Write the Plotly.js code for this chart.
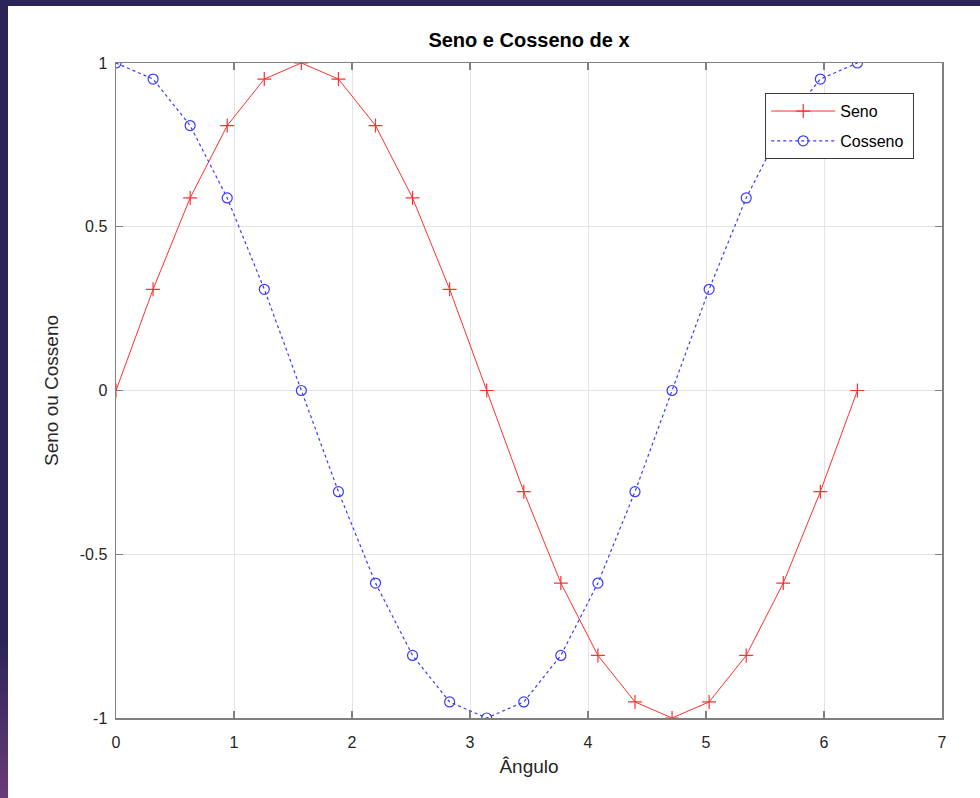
<!DOCTYPE html>
<html>
<head>
<meta charset="utf-8">
<script src="https://cdn.plot.ly/plotly-3.0.1.min.js"></script>
<style>
  html, body { margin:0; padding:0; width:980px; height:798px; overflow:hidden;
    background: linear-gradient(180deg, #2a2458 0%, #2a2458 80%, #6a3a78 100%); }
  #chart { position:absolute; left:8px; top:6px; width:972px; height:792px; background:#fff; }
</style>
</head>
<body>
<div id="chart"></div>
<script>
const xVals = [0, 0.3142, 0.6283, 0.9425, 1.2566, 1.5708, 1.8850, 2.1991, 2.5133, 2.8274, 3.1416,
               3.4558, 3.7699, 4.0841, 4.3982, 4.7124, 5.0265, 5.3407, 5.6549, 5.9690, 6.2832];
const seno = [0, 0.309, 0.588, 0.809, 0.951, 1, 0.951, 0.809, 0.588, 0.309, 0,
              -0.309, -0.588, -0.809, -0.951, -1, -0.951, -0.809, -0.588, -0.309, 0];
const cosseno = [1, 0.951, 0.809, 0.588, 0.309, 0, -0.309, -0.588, -0.809, -0.951, -1,
                 -0.951, -0.809, -0.588, -0.309, 0, 0.309, 0.588, 0.809, 0.951, 1];
const xTicks = [0, 1, 2, 3, 4, 5, 6, 7];
const yTicks = [-1, -0.5, 0, 0.5, 1];
const yTickText = ['-1', '-0.5', '0', '0.5', '1'];

const font = 'Liberation Sans, Arial, sans-serif';
const red = '#ff3030', blue = '#3a3aff';
const traces = [
  { x: xVals, y: seno, name: 'Seno', type: 'scatter', mode: 'lines+markers', legendgroup: 'a',
    line: { color: red, width: 1 },
    marker: { symbol: 'cross-thin-open', size: 10, line: { color: red, width: 1.2 } } },
  { x: xVals, y: cosseno, name: 'Cosseno\u00a0', type: 'scatter', mode: 'lines+markers', legendgroup: 'b',
    line: { color: blue, width: 1.2, dash: '3px,3px' },
    marker: { symbol: 'circle-open', size: 10, color: blue, line: { color: blue, width: 1.2 } } }
];
const axisCommon = {
  showgrid: true, gridcolor: '#e4e4e4', gridwidth: 1,
  showline: true, linecolor: '#808080', linewidth: 1.5, mirror: 'ticks',
  ticks: 'inside', ticklen: 7, tickcolor: '#808080', tickwidth: 1.2,
  zeroline: false, tickfont: { family: font, size: 16, color: '#262626' }
};
const layout = {
  width: 972, height: 792,
  margin: { l: 108, r: 38, t: 57, b: 80 },
  paper_bgcolor: '#ffffff', plot_bgcolor: '#ffffff',
  title: { text: '<b>Seno e Cosseno de x</b>', font: { family: font, size: 20, color: '#000' },
           x: 0.5, xref: 'paper', xanchor: 'center', y: 0.957, yref: 'container', yanchor: 'middle' },
  xaxis: Object.assign({}, axisCommon, { range: [0, 7], tickvals: xTicks, ticktext: xTicks.map(String),
    ticklabelstandoff: 9,
    title: { text: 'Ângulo', font: { family: font, size: 19, color: '#262626' }, standoff: 10 } }),
  yaxis: Object.assign({}, axisCommon, { range: [-1, 1], tickvals: yTicks, ticktext: yTickText,
    ticklabelstandoff: 4,
    title: { text: 'Seno ou Cosseno', font: { family: font, size: 19, color: '#262626' }, standoff: 16 } }),
  showlegend: true,
  legend: { x: 0.786, y: 0.954, xanchor: 'left', yanchor: 'top', bgcolor: '#ffffff',
    bordercolor: '#3a3a3a', borderwidth: 1, font: { family: font, size: 16, color: '#000' },
    tracegroupgap: 6, itemwidth: 64 }
};
Plotly.newPlot('chart', traces, layout, { displayModeBar: false, staticPlot: true });
</script>
</body>
</html>
